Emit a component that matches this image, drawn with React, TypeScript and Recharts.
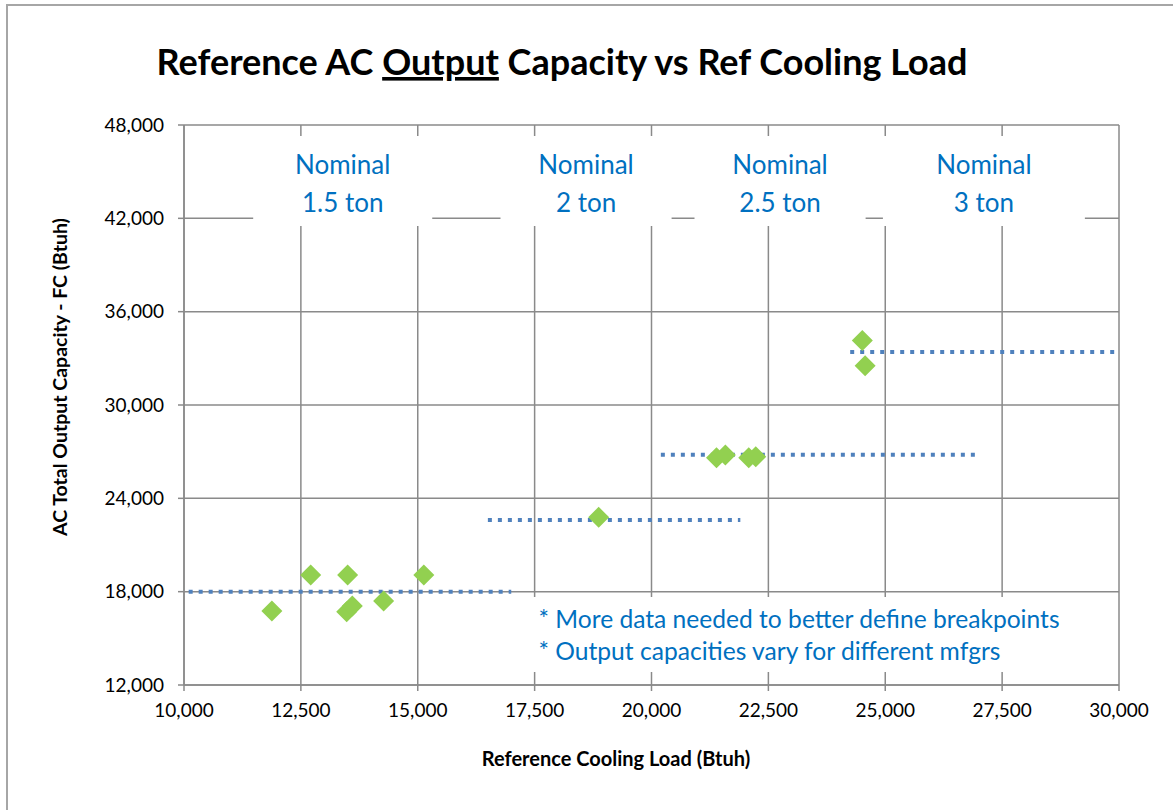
import {
  ScatterChart,
  Scatter,
  XAxis,
  YAxis,
  CartesianGrid,
  ReferenceLine,
  ReferenceArea,
} from 'recharts'

// measured points (Btuh)
const loads = [11880, 12710, 13500, 13480, 13600, 14270, 15130, 18870, 21390, 21580, 22080, 22230, 24510, 24570]
const capacities = [16750, 19070, 19070, 16710, 17080, 17400, 19070, 22780, 26610, 26790, 26610, 26680, 34140, 32530]

const xTicks = [10000, 12500, 15000, 17500, 20000, 22500, 25000, 27500, 30000]
const yTicks = [12000, 18000, 24000, 30000, 36000, 42000, 48000]

// nominal size labels and their boxes
const nominalLabels = ['1.5 ton', '2 ton', '2.5 ton', '3 ton']
const nominalBoxStart = [11480, 16770, 20920, 24950]
const nominalBoxEnd = [15310, 20430, 24580, 29270]
const nominalBoxY = [41500, 47300]

// breakpoint lines
const breakCapacity = [18000, 22600, 26800, 33400]
const breakStart = [10100, 16500, 20200, 24250]
const breakEnd = [17000, 21900, 27000, 29900]

const notes = [
  '* More data needed to better define breakpoints',
  '* Output capacities vary for different mfgrs',
]
const notesBoxX = [17370, 29190]
const notesBoxY = [12840, 17660]

const data = loads.map((x, i) => ({ x, y: capacities[i] }))

const FONT = 'Lato, "Open Sans", sans-serif'
const BLUE = '#0070C0'
const GRID = '#8a8a8a'

const fmt = (v: number) => v.toLocaleString('en-US')

function Diamond(props: any) {
  const { cx, cy } = props
  const r = 10.5
  return (
    <polygon
      points={`${cx},${cy - r} ${cx + r},${cy} ${cx},${cy + r} ${cx - r},${cy}`}
      fill="#92D050"
    />
  )
}

function NominalLabel(props: any) {
  const { viewBox, text } = props
  const cx = viewBox.x + viewBox.width / 2
  return (
    <text fill={BLUE} fontFamily={FONT} fontSize={26} textAnchor="middle">
      <tspan x={cx} y={viewBox.y + 38}>Nominal</tspan>
      <tspan x={cx} y={viewBox.y + 76}>{text}</tspan>
    </text>
  )
}

function NotesLabel(props: any) {
  const { viewBox } = props
  return (
    <text fill={BLUE} fontFamily={FONT} fontSize={24.6}>
      {notes.map((n, i) => (
        <tspan key={i} x={viewBox.x + 10} y={viewBox.y + 31 + i * 32}>
          {n}
        </tspan>
      ))}
    </text>
  )
}

export default function App() {
  return (
    <div
      style={{
        position: 'absolute',
        left: 0,
        top: 0,
        width: 1173,
        height: 810,
        overflow: 'hidden',
        background: '#fff',
      }}
    >
      <div
        style={{
          position: 'absolute',
          left: 6,
          top: 4,
          width: 1300,
          height: 1000,
          border: '2px solid #a6a6a6',
        }}
      />
      <ScatterChart
        width={1173}
        height={810}
        margin={{ top: 125, right: 54, bottom: 95, left: 124 }}
        style={{ position: 'absolute', left: 0, top: 0 }}
      >
        <CartesianGrid stroke={GRID} strokeWidth={1.5} />
        <XAxis
          type="number"
          dataKey="x"
          domain={[10000, 30000]}
          ticks={xTicks}
          tickFormatter={fmt}
          height={30}
          tickSize={6}
          tickMargin={13}
          axisLine={{ stroke: GRID, strokeWidth: 1.5 }}
          tickLine={{ stroke: GRID, strokeWidth: 1.5 }}
          tick={{ fill: '#000', fontSize: 19, fontFamily: FONT }}
        />
        <YAxis
          type="number"
          dataKey="y"
          domain={[12000, 48000]}
          ticks={yTicks}
          tickFormatter={fmt}
          width={60}
          tickSize={6}
          tickMargin={14}
          axisLine={{ stroke: GRID, strokeWidth: 1.5 }}
          tickLine={{ stroke: GRID, strokeWidth: 1.5 }}
          tick={{ fill: '#000', fontSize: 19, fontFamily: FONT }}
        />
        {nominalLabels.map((t, i) => (
          <ReferenceArea
            key={t}
            x1={nominalBoxStart[i]}
            x2={nominalBoxEnd[i]}
            y1={nominalBoxY[0]}
            y2={nominalBoxY[1]}
            fill="#fff"
            fillOpacity={1}
            stroke="none"
            label={<NominalLabel text={t} />}
          />
        ))}
        <ReferenceArea
          x1={notesBoxX[0]}
          x2={notesBoxX[1]}
          y1={notesBoxY[0]}
          y2={notesBoxY[1]}
          fill="#fff"
          fillOpacity={1}
          stroke="none"
          label={<NotesLabel />}
        />
        {breakCapacity.map((c, i) => (
          <ReferenceLine
            key={i}
            segment={[
              { x: breakStart[i], y: c },
              { x: breakEnd[i], y: c },
            ]}
            stroke="#4F81BD"
            strokeWidth={4}
            strokeDasharray="4 6"
          />
        ))}
        <Scatter data={data} shape={<Diamond />} isAnimationActive={false} />
      </ScatterChart>
      <svg
        width={1173}
        height={810}
        style={{ position: 'absolute', left: 0, top: 0, pointerEvents: 'none' }}
      >
        <text
          x={562}
          y={75}
          textAnchor="middle"
          fontFamily={FONT}
          fontWeight="bold"
          fontSize={36}
          fill="#000"
        >
          Reference AC <tspan style={{ textDecoration: 'underline' }}>Output</tspan> Capacity vs Ref
          Cooling Load
        </text>
        <text
          x={616}
          y={766}
          textAnchor="middle"
          fontFamily={FONT}
          fontWeight="bold"
          fontSize={20}
          fill="#000"
        >
          Reference Cooling Load (Btuh)
        </text>
        <text
          transform="translate(67, 377) rotate(-90)"
          textAnchor="middle"
          fontFamily={FONT}
          fontWeight="bold"
          fontSize={19.5}
          fill="#000"
        >
          AC Total Output Capacity - FC (Btuh)
        </text>
      </svg>
    </div>
  )
}
